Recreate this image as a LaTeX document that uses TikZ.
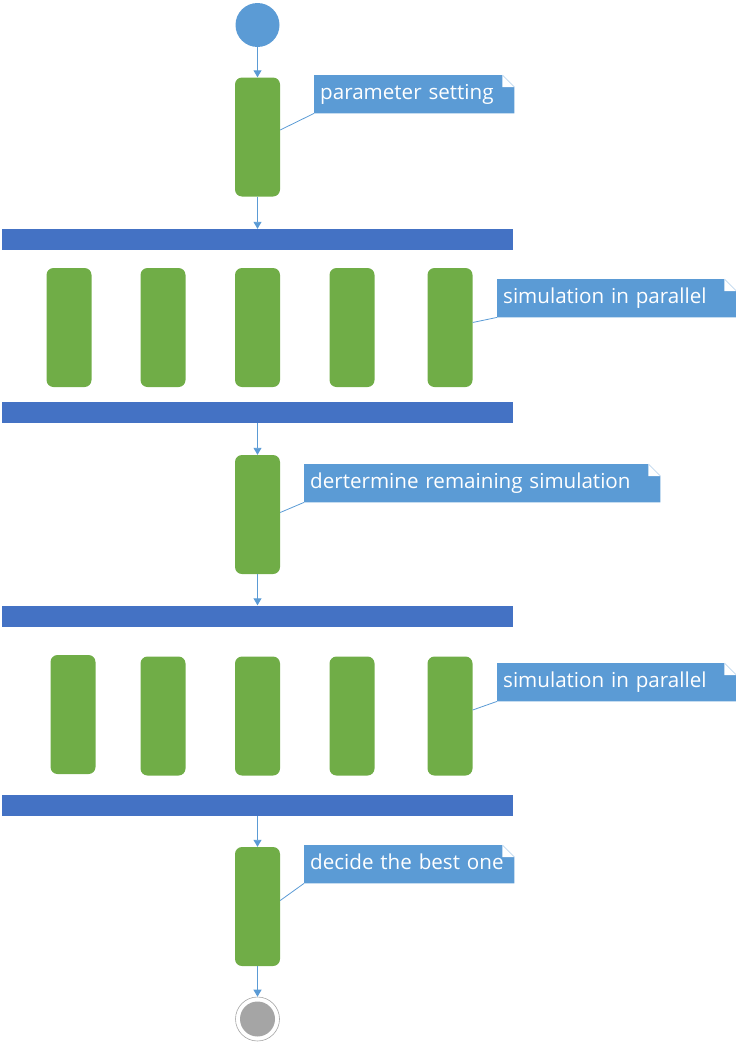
\documentclass[tikz,border=0pt]{standalone}
\usepackage{fontspec}
\setmainfont{Open Sans}
\usetikzlibrary{arrows.meta,backgrounds}

\definecolor{startblue}{RGB}{91,155,213}
\definecolor{actgreen}{RGB}{112,173,71}
\definecolor{barblue}{RGB}{68,114,196}
\definecolor{endgray}{RGB}{165,165,165}

\tikzset{
  act/.style={fill=actgreen, rounded corners=7pt, minimum width=45pt, minimum height=119pt, inner sep=0pt},
  forkbar/.style={fill=barblue, minimum width=511pt, minimum height=21pt, inner sep=0pt},
  flow/.style={draw=startblue, line width=0.9pt, -{Triangle[width=8pt,length=7pt]}},
  notelink/.style={draw=startblue, line width=0.8pt},
  notebox/.style={anchor=north west, text=white, font=\fontsize{20.6}{23}\selectfont, align=left,
    inner xsep=6pt, inner ysep=0pt, minimum height=38pt, text height=15pt, text depth=4pt}
}

% note with folded corner, drawn behind its text node
\newcommand{\dognote}[1]{%
  \begin{scope}[on background layer]
  \fill[startblue] (#1.south west) -- (#1.north west) -- ([xshift=-12pt]#1.north east) -- ([yshift=12pt]#1.north east) -- (#1.south east) -- cycle;
  \fill[white] ([xshift=-12pt]#1.north east) -- ([yshift=12pt]#1.north east) -- ([xshift=-12pt,yshift=12pt]#1.north east) -- cycle;
  \draw[startblue!35, line width=0.6pt] ([xshift=-12pt]#1.north east) -- ([yshift=12pt]#1.north east);
  \end{scope}
}

\begin{document}
\begin{tikzpicture}[x=1pt,y=1pt,yscale=-1,xscale=1]
\useasboundingbox (0,0) rectangle (736,1044);

% start
\node [circle, fill=startblue, minimum size=44pt, inner sep=0pt] (start) at (257.5,25) {};

% parameter setting
\node [act] (set) at (257.5,137) {};
\node [notebox, text width=188pt] (nset) at (314,75) {parameter setting};
\dognote{nset}

% fork 1
\node [forkbar] (fa) at (257.5,239.5) {};
\node [act] (p1) at (69,327.5) {};
\node [act] (p2) at (163,327.5) {};
\node [act] (p3) at (257.5,327.5) {};
\node [act] (p4) at (352,327.5) {};
\node [act] (p5) at (450,327.5) {};
\node [notebox, text width=227pt] (npar) at (497,279) {simulation in parallel};
\dognote{npar}
\node [forkbar] (ja) at (257.5,412.5) {};

% remaining
\node [act] (rem) at (257.5,514.5) {};
\node [notebox, text width=344pt] (nrem) at (304,464) {dertermine remaining simulation};
\dognote{nrem}

% fork 2
\node [forkbar] (fb) at (257.5,616) {};
\node [act] (q1) at (73,714.5) {};
\node [act] (q2) at (163,716) {};
\node [act] (q3) at (257.5,716) {};
\node [act] (q4) at (352,716) {};
\node [act] (q5) at (450,716) {};
\node [notebox, text width=227pt] (npar2) at (497,663) {simulation in parallel};
\dognote{npar2}
\node [forkbar] (jb) at (257.5,805.5) {};

% best one
\node [act] (best) at (257.5,906.5) {};
\node [notebox, text width=198pt] (nbest) at (304,845) {decide the best one};
\dognote{nbest}

% end
\node [circle, draw=endgray, line width=0.6pt, fill=white, minimum size=44pt, inner sep=0pt] (stop) at (257.5,1019) {};
\node [circle, fill=endgray, minimum size=35pt, inner sep=0pt] (stopin) at (stop.center) {};

% flows
\draw [flow] (start) -- (set);
\draw [flow] (set) -- (fa);
\draw [flow] (ja) -- (rem);
\draw [flow] (rem) -- (fb);
\draw [flow] (jb) -- (best);
\draw [flow] (best) -- (stop);

% note links
\draw [notelink] ([yshift=-7pt]set.east) -- (nset.south west);
\draw [notelink] ([yshift=-5pt]p5.east) -- (npar.south west);
\draw [notelink] ([yshift=-2pt]rem.east) -- (nrem.south west);
\draw [notelink] ([yshift=-6pt]q5.east) -- (npar2.south west);
\draw [notelink] ([yshift=-6pt]best.east) -- (nbest.south west);

\end{tikzpicture}
\end{document}
